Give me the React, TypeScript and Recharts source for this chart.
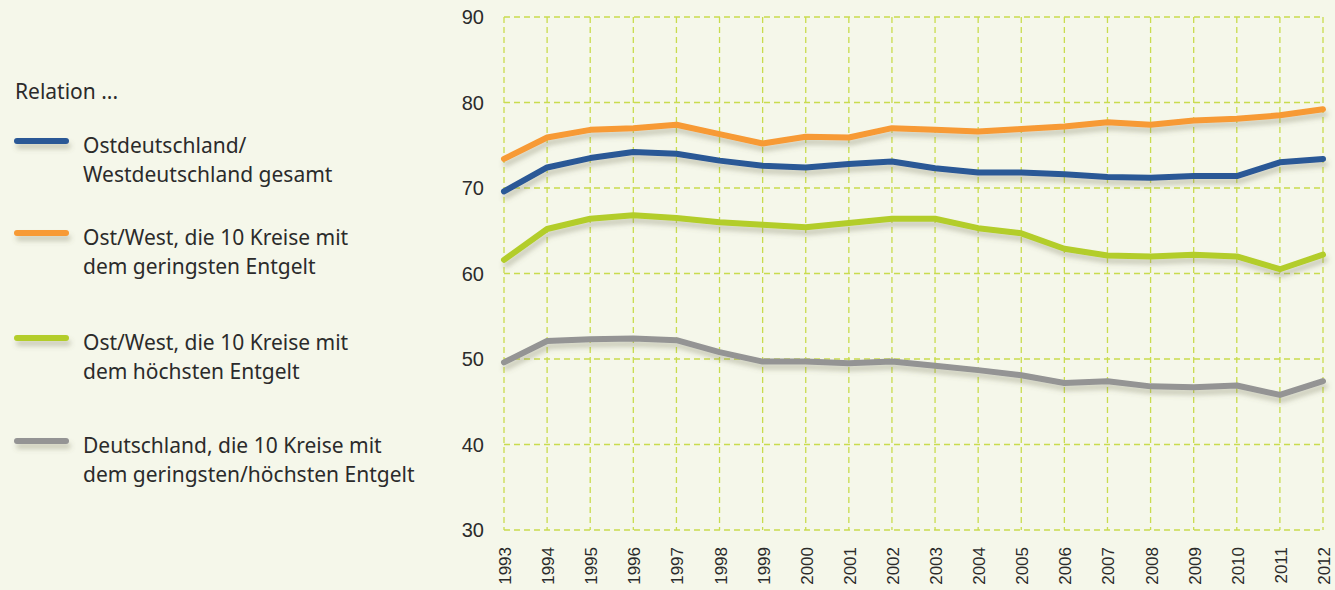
import React from 'react';
import { LineChart, Line, XAxis, YAxis, CartesianGrid } from 'recharts';

const years = [1993, 1994, 1995, 1996, 1997, 1998, 1999, 2000, 2001, 2002, 2003, 2004, 2005, 2006, 2007, 2008, 2009, 2010, 2011, 2012];
const ostWestGesamt = [69.6, 72.4, 73.5, 74.2, 74.0, 73.2, 72.6, 72.4, 72.8, 73.1, 72.3, 71.8, 71.8, 71.6, 71.3, 71.2, 71.4, 71.4, 73.0, 73.4];
const ostWestGering = [73.4, 75.9, 76.8, 77.0, 77.4, 76.3, 75.2, 76.0, 75.9, 77.0, 76.8, 76.6, 76.9, 77.2, 77.7, 77.4, 77.9, 78.1, 78.5, 79.2];
const ostWestHoch = [61.6, 65.2, 66.4, 66.8, 66.5, 66.0, 65.7, 65.4, 65.9, 66.4, 66.4, 65.3, 64.7, 62.9, 62.1, 62.0, 62.2, 62.0, 60.5, 62.2];
const deutschland = [49.6, 52.1, 52.3, 52.4, 52.2, 50.8, 49.7, 49.7, 49.5, 49.7, 49.2, 48.7, 48.1, 47.2, 47.4, 46.8, 46.7, 46.9, 45.8, 47.4];
const yTicks = [30, 40, 50, 60, 70, 80, 90];

const series = [
  { key: 'gesamt', color: '#2a5896', lines: ['Ostdeutschland/', 'Westdeutschland gesamt'] },
  { key: 'gering', color: '#f79a35', lines: ['Ost/West, die 10 Kreise mit', 'dem geringsten Entgelt'] },
  { key: 'hoch', color: '#b3cd2b', lines: ['Ost/West, die 10 Kreise mit', 'dem höchsten Entgelt'] },
  { key: 'de', color: '#949494', lines: ['Deutschland, die 10 Kreise mit', 'dem geringsten/höchsten Entgelt'] },
];

const data = years.map((year, i) => ({
  year,
  gesamt: ostWestGesamt[i],
  gering: ostWestGering[i],
  hoch: ostWestHoch[i],
  de: deutschland[i],
}));

const BG = '#f5f7ea';
const GRID = '#c9dc4e';
const TEXT = '#2b2b2b';
const LEGEND_FONT = "'Noto Sans', sans-serif";

// y of each legend swatch
const legendRows = [141, 233, 338, 441];

const YearTick = (props: any) => {
  const { x, y, payload } = props;
  return (
    <text
      transform={`translate(${x + 7},${y + 9}) rotate(-90)`}
      textAnchor="end"
      fill={TEXT}
      fontSize={17}
      fontFamily="'Liberation Sans', Arial, sans-serif"
    >
      {payload.value}
    </text>
  );
};

export default function App() {
  return (
    <div style={{ position: 'fixed', left: 0, top: 0, width: 1335, height: 590, background: BG, overflow: 'hidden' }}>
      <svg width={0} height={0} style={{ position: 'absolute' }}>
        <defs>
          <filter id="lineShadow" filterUnits="userSpaceOnUse" x={0} y={0} width={1335} height={590}>
            <feGaussianBlur in="SourceAlpha" stdDeviation="2.8" />
            <feOffset dx="2" dy="5" result="blur" />
            <feFlood floodColor="#6e6e50" floodOpacity="0.32" />
            <feComposite in2="blur" operator="in" />
            <feMerge>
              <feMergeNode />
              <feMergeNode in="SourceGraphic" />
            </feMerge>
          </filter>
        </defs>
      </svg>

      <svg width={480} height={590} style={{ position: 'absolute', left: 0, top: 0 }}>
        <text x={15} y={99} fontSize={21} fill={TEXT} fontFamily={LEGEND_FONT}>Relation ...</text>
        {series.map((s, i) => (
          <g key={s.key}>
            <line x1={17} x2={66} y1={legendRows[i]} y2={legendRows[i]} stroke={s.color} strokeWidth={6} strokeLinecap="round" filter="url(#lineShadow)" />
            {s.lines.map((t, j) => (
              <text key={j} x={83} y={legendRows[i] + 12 + j * 28.5} fontSize={21} fill={TEXT} fontFamily={LEGEND_FONT}>
                {t}
              </text>
            ))}
          </g>
        ))}
      </svg>

      <div style={{ position: 'absolute', left: 0, top: 0 }}>
        <LineChart width={1335} height={590} data={data} margin={{ top: 17, right: 12, bottom: 0, left: 0 }}>
          <CartesianGrid stroke={GRID} strokeDasharray="6 4" strokeWidth={1.3} />
          <XAxis
            dataKey="year"
            type="number"
            domain={[1993, 2012]}
            ticks={years}
            interval={0}
            axisLine={false}
            tickLine={false}
            height={60}
            tick={<YearTick />}
          />
          <YAxis
            type="number"
            domain={[30, 90]}
            ticks={yTicks}
            axisLine={false}
            tickLine={false}
            width={504}
            tickMargin={14}
            tick={{ fill: TEXT, fontSize: 20, fontFamily: "'Liberation Sans', Arial, sans-serif" }}
          />
          {series.map((s) => (
            <Line
              key={s.key}
              dataKey={s.key}
              stroke={s.color}
              strokeWidth={6}
              strokeLinecap="round"
              strokeLinejoin="round"
              dot={false}
              activeDot={false}
              type="linear"
              filter="url(#lineShadow)"
              isAnimationActive={false}
            />
          ))}
        </LineChart>
      </div>
    </div>
  );
}
